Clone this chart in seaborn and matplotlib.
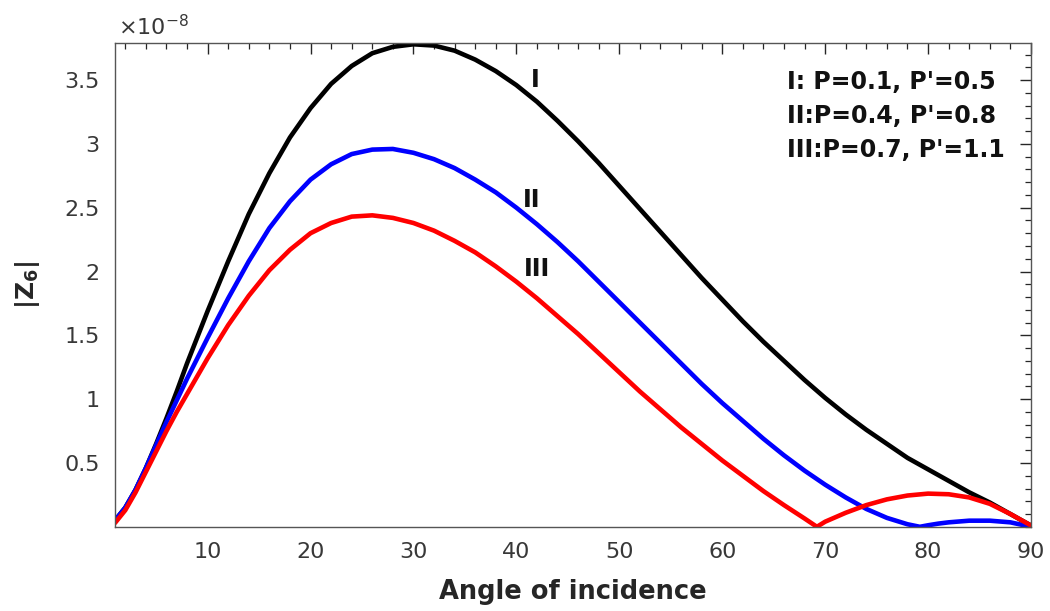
import matplotlib
matplotlib.use("Agg")
import matplotlib.pyplot as plt
from matplotlib.ticker import MultipleLocator, FixedLocator, FuncFormatter
import seaborn as sns
import pandas as pd

# |Z6| versus angle of incidence, values in units of 1e-8
angle_I = [1, 2, 3, 4, 5, 6, 7, 8, 10, 12, 14, 16, 18, 20, 22, 24, 26, 28, 30, 32,
           34, 36, 38, 40, 42, 44, 46, 48, 50, 52, 54, 56, 58, 60, 62, 64, 66, 68,
           70, 72, 74, 76, 78, 80, 82, 84, 86, 88, 90]
z6_I = [0.05, 0.15, 0.29, 0.46, 0.65, 0.85, 1.06, 1.28, 1.69, 2.08, 2.45, 2.77,
        3.05, 3.28, 3.47, 3.61, 3.71, 3.76, 3.78, 3.77, 3.73, 3.66, 3.57, 3.46,
        3.33, 3.18, 3.02, 2.85, 2.67, 2.49, 2.31, 2.13, 1.95, 1.78, 1.61, 1.45,
        1.30, 1.15, 1.01, 0.88, 0.76, 0.65, 0.54, 0.45, 0.36, 0.27, 0.19, 0.10, 0.01]

angle_II = [1, 2, 3, 4, 5, 6, 7, 8, 10, 12, 14, 16, 18, 20, 22, 24, 26, 28, 30, 32,
            34, 36, 38, 40, 42, 44, 46, 48, 50, 52, 54, 56, 58, 60, 62, 64, 66, 68,
            70, 72, 74, 76, 78, 79.2, 80, 81, 82, 84, 86, 88, 90]
z6_II = [0.05, 0.15, 0.29, 0.46, 0.64, 0.82, 0.99, 1.16, 1.48, 1.79, 2.08, 2.34,
         2.55, 2.72, 2.84, 2.92, 2.955, 2.96, 2.93, 2.88, 2.81, 2.72, 2.62, 2.50,
         2.37, 2.23, 2.08, 1.92, 1.76, 1.60, 1.44, 1.28, 1.12, 0.97, 0.83, 0.69,
         0.56, 0.44, 0.33, 0.23, 0.14, 0.07, 0.02, 0.0, 0.012, 0.025, 0.035, 0.048,
         0.048, 0.035, 0.0]

angle_III = [1, 2, 3, 4, 5, 6, 7, 8, 10, 12, 14, 16, 18, 20, 22, 24, 26, 28, 30,
             32, 34, 36, 38, 40, 42, 44, 46, 48, 50, 52, 54, 56, 58, 60, 62, 64,
             66, 68, 69.2, 70, 72, 74, 76, 78, 80, 82, 84, 86, 88, 90]
z6_III = [0.03, 0.13, 0.27, 0.43, 0.59, 0.75, 0.90, 1.04, 1.32, 1.58, 1.81, 2.01,
          2.17, 2.30, 2.38, 2.43, 2.44, 2.42, 2.38, 2.32, 2.24, 2.15, 2.04, 1.92,
          1.79, 1.65, 1.51, 1.36, 1.21, 1.06, 0.92, 0.78, 0.65, 0.52, 0.40, 0.28,
          0.17, 0.065, 0.0, 0.04, 0.11, 0.17, 0.215, 0.245, 0.26, 0.255, 0.23,
          0.18, 0.10, 0.01]

curve_labels = ["I", "II", "III"]
curve_colors = ["#000000", "#0000ff", "#ff0000"]
legend_lines = ["I: P=0.1, P'=0.5", "II:P=0.4, P'=0.8", "III:P=0.7, P'=1.1"]
x_ticks = [10, 20, 30, 40, 50, 60, 70, 80, 90]
y_ticks = [0.5, 1, 1.5, 2, 2.5, 3, 3.5]

sns.set_theme(style="white")
plt.rcParams["font.family"] = ["DejaVu Sans"]
plt.rcParams["mathtext.fontset"] = "dejavusans"

fig = plt.figure(figsize=(10.5, 6.11), dpi=100)
ax = fig.add_axes([0.1095, 0.1378, 0.8724, 0.7918])

frames = []
for lab, xs, ys in zip(curve_labels, [angle_I, angle_II, angle_III],
                       [z6_I, z6_II, z6_III]):
    frames.append(pd.DataFrame({"angle": xs, "z6": ys, "curve": lab}))
df = pd.concat(frames, ignore_index=True)

sns.lineplot(data=df, x="angle", y="z6", hue="curve", hue_order=curve_labels,
             palette=curve_colors, sort=False, estimator=None, linewidth=3.3,
             legend=False, ax=ax)
for ln in ax.lines:
    ln.set_solid_joinstyle("round")
    ln.set_solid_capstyle("round")

ax.set_xlim(1, 90)
ax.set_ylim(0, 3.79)

axis_color = "#262626"
ax.xaxis.set_major_locator(FixedLocator(x_ticks))
ax.xaxis.set_minor_locator(MultipleLocator(2))
ax.yaxis.set_major_locator(FixedLocator(y_ticks))
ax.yaxis.set_minor_locator(MultipleLocator(0.1))
ax.yaxis.set_major_formatter(FuncFormatter(lambda v, p: f"{v:g}"))
ax.tick_params(which="both", direction="in", top=True, right=True,
               color=axis_color, labelcolor="#383838", labelsize=16)
ax.tick_params(which="major", length=8, width=1.0)
ax.tick_params(which="minor", length=4, width=0.9)
ax.tick_params(axis="x", which="major", pad=11)
ax.tick_params(axis="y", which="major", pad=11)
for sp in ax.spines.values():
    sp.set_visible(True)
    sp.set_color("#555555")
    sp.set_linewidth(1.0)

ax.set_xlabel("Angle of incidence", fontsize=18.5, fontweight="bold",
              color="#262626", labelpad=12)
ax.set_ylabel(r"$\mathbf{|Z_6|}$", fontsize=18, color="#262626", labelpad=16)

# multiplier for the y values
ax.text(0.003, 1.008, r"$\times10^{-8}$", transform=ax.transAxes,
        fontsize=16, color="#383838", ha="left", va="bottom")

# curve labels
label_pos = [(41.8, 3.50), (41.5, 2.56), (42.0, 2.02)]
for lab, (lx, ly) in zip(curve_labels, label_pos):
    ax.text(lx, ly, lab, fontsize=17, fontweight="bold", color="#111111",
            ha="center", va="center")

# parameter list in the upper right corner
for i, line in enumerate(legend_lines):
    ax.text(0.734, 0.920 - i * 0.071, line, transform=ax.transAxes,
            fontsize=17, fontweight="bold", color="#111111",
            ha="left", va="center")

fig.savefig("out.png", dpi=100, facecolor="white")
